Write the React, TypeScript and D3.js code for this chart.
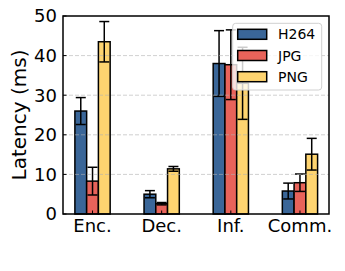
import React from 'react';
import * as d3 from 'd3';

const categories = ['Enc.', 'Dec.', 'Inf.', 'Comm.'];
const seriesNames = ['H264', 'JPG', 'PNG'];
const seriesColors = ['#3a6698', '#e8635a', '#fed470'];
const h264 = [26.0, 5.0, 38.0, 5.8];
const h264Err = [3.4, 0.9, 8.3, 2.0];
const jpg = [8.3, 2.6, 37.7, 7.9];
const jpgErr = [3.5, 0.3, 8.8, 2.2];
const png = [43.5, 11.4, 33.0, 15.1];
const pngErr = [5.1, 0.6, 9.1, 4.0];
const yTicks = [0, 10, 20, 30, 40, 50];

const values = [h264, jpg, png];
const errors = [h264Err, jpgErr, pngErr];

const W = 345;
const H = 271;
const left = 63;
const right = 329;
const top = 16;
const bottom = 214;
const barW = 0.17;
const font = 'DejaVu Sans, sans-serif';

const App = () => {
    const x = d3.scaleLinear().domain([-0.427, 3.42]).range([left, right]);
    const y = d3.scaleLinear().domain([0, 50]).range([bottom, top]);
    const bw = x(barW) - x(0);
    const capHalf = 5;

    return (
        <svg width={W} height={H} style={{ position: 'absolute', left: 0, top: 0 }}>
            <rect x={0} y={0} width={W} height={H} fill="white" />
            {values.map((vals, s) =>
                <g key={s}>
                    {vals.map((v, i) => {
                        const cx = x(i + (s - 1) * barW);
                        const e = errors[s][i];
                        return (
                            <g key={i}>
                                <rect x={cx - bw / 2} y={y(v)} width={bw} height={y(0) - y(v)}
                                    fill={seriesColors[s]} stroke="black" strokeWidth={1.5} />
                                <line x1={cx} x2={cx} y1={y(v - e)} y2={y(v + e)} stroke="black" strokeWidth={1.5} />
                                <line x1={cx - capHalf} x2={cx + capHalf} y1={y(v - e)} y2={y(v - e)} stroke="black" strokeWidth={1.5} />
                                <line x1={cx - capHalf} x2={cx + capHalf} y1={y(v + e)} y2={y(v + e)} stroke="black" strokeWidth={1.5} />
                            </g>
                        );
                    })}
                </g>
            )}
            {yTicks.slice(1, -1).map(t =>
                <line key={t} x1={left} x2={right} y1={y(t)} y2={y(t)} stroke="#b0b0b0"
                    strokeOpacity={0.6} strokeDasharray="4,2" strokeWidth={1} />
            )}
            <rect x={left} y={top} width={right - left} height={bottom - top} fill="none" stroke="black" strokeWidth={1.5} />
            {yTicks.map(t =>
                <g key={t}>
                    <line x1={left} x2={left + 3.5} y1={y(t)} y2={y(t)} stroke="black" strokeWidth={1} />
                    <text x={left - 6} y={y(t)} dy="0.36em" textAnchor="end" fontSize={18} fontFamily={font}>{t}</text>
                </g>
            )}
            {categories.map((c, i) =>
                <g key={c}>
                    <line x1={x(i)} x2={x(i)} y1={bottom} y2={bottom - 3.5} stroke="black" strokeWidth={1} />
                    <text x={x(i)} y={bottom + 18} textAnchor="middle" fontSize={18} fontFamily={font}>{c}</text>
                </g>
            )}
            <text transform={`translate(26,${(top + bottom) / 2}) rotate(-90)`} textAnchor="middle"
                fontSize={20} fontFamily={font}>Latency (ms)</text>
            <g>
                <rect x={232.7} y={23.3} width={89} height={66.7} rx={3} fill="white" fillOpacity={0.8}
                    stroke="#d0d0d0" strokeWidth={1} />
                {seriesNames.map((n, s) =>
                    <g key={n}>
                        <rect x={237.7} y={29.3 + s * 21.2} width={29} height={10} fill={seriesColors[s]}
                            stroke="black" strokeWidth={1.5} />
                        <text x={278} y={34.3 + s * 21.2} dy="0.36em" fontSize={14} fontFamily={font}>{n}</text>
                    </g>
                )}
            </g>
        </svg>
    );
};

export default App;
